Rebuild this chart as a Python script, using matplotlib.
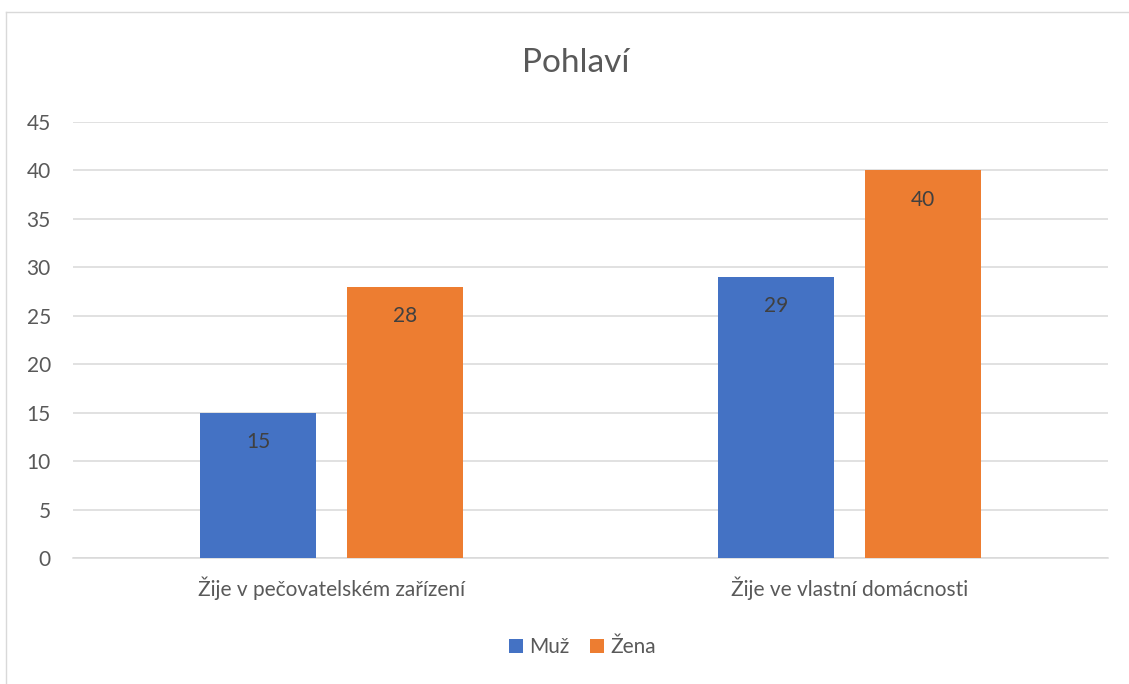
import matplotlib
matplotlib.use("Agg")
import matplotlib.pyplot as plt
import numpy as np
from matplotlib.lines import Line2D

plt.rcParams["font.family"] = ["Lato", "DejaVu Sans"]

# data
categories = ["Žije v pečovatelském zařízení", "Žije ve vlastní domácnosti"]
series_names = ["Muž", "Žena"]
muz = [15, 29]
zena = [28, 40]
y_ticks = [0, 5, 10, 15, 20, 25, 30, 35, 40, 45]

BLUE = "#4472C4"
ORANGE = "#ED7D31"
TEXT = "#595959"
LABEL = "#404040"
GRID = "#D9D9D9"

fig = plt.figure(figsize=(11.29, 6.84), dpi=100)
ax = fig.add_axes([0.0647, 0.1842, 0.9167, 0.6374])

x = np.arange(len(categories))
width = 0.224
offset = 0.142

bars_m = ax.bar(x - offset, muz, width, color=BLUE, label=series_names[0], zorder=3)
bars_z = ax.bar(x + offset, zena, width, color=ORANGE, label=series_names[1], zorder=3)

for bars in (bars_m, bars_z):
    for b in bars:
        ax.annotate(f"{b.get_height():g}",
                    (b.get_x() + b.get_width() / 2, b.get_height()),
                    xytext=(0, -21), textcoords="offset points",
                    ha="center", va="center", fontsize=15, color=LABEL)

ax.set_xlim(-0.5, 1.5)
ax.set_ylim(0, 45)
ax.set_yticks(y_ticks)
ax.set_xticks(x)
ax.set_xticklabels(categories)
ax.yaxis.grid(True, color=GRID, linewidth=1.1, zorder=0)
ax.set_axisbelow(True)
for s in ("top", "right", "left"):
    ax.spines[s].set_visible(False)
ax.spines["bottom"].set_color(GRID)
ax.spines["bottom"].set_linewidth(1.1)
ax.tick_params(axis="both", length=0, labelsize=15, labelcolor=TEXT)
ax.tick_params(axis="y", pad=16)
ax.tick_params(axis="x", pad=13)

fig.text(0.510, 0.908, "Pohlaví", ha="center", va="center", fontsize=24, color=TEXT)

leg = fig.legend(loc="center", bbox_to_anchor=(0.516, 0.054), ncol=2, frameon=False,
                 fontsize=15, handlelength=0.65, handleheight=0.65, handletextpad=0.3,
                 columnspacing=1.0)
for t in leg.get_texts():
    t.set_color(TEXT)

# chart frame (cropped at right and bottom)
fig.add_artist(Line2D([6 / 1129, 1], [1 - 12 / 684, 1 - 12 / 684], transform=fig.transFigure,
                      color=GRID, linewidth=1))
fig.add_artist(Line2D([6 / 1129, 6 / 1129], [0, 1 - 12 / 684], transform=fig.transFigure,
                      color=GRID, linewidth=1))

fig.savefig("out.png", dpi=100, facecolor="white")
